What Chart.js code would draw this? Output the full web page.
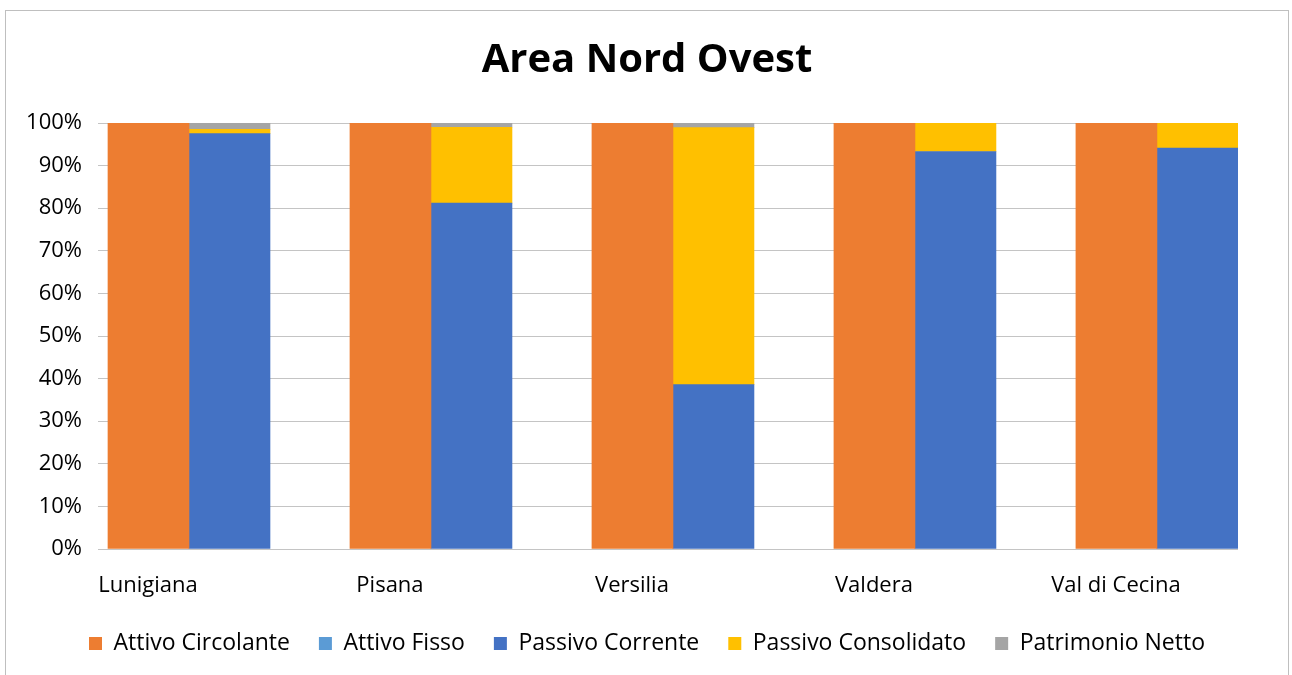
<!DOCTYPE html>
<html>
<head>
<meta charset="utf-8">
<script src="https://cdn.jsdelivr.net/npm/chart.js@4"></script>
<style>
  body { margin: 0; background: #fff; }
  #frame { position: absolute; left: 5px; top: 10px; width: 1282px; height: 700px; border: 1px solid #bfbfbf; }
  #box { position: absolute; left: 0; top: 0; width: 1282px; height: 664px; }
</style>
</head>
<body>
<div id="frame"><div id="box"><canvas id="chart"></canvas></div></div>
<script>
const categories = ['Lunigiana', 'Pisana', 'Versilia', 'Valdera', 'Val di Cecina'];
const attivoCircolante = [100, 100, 100, 100, 100];
const attivoFisso = [0, 0, 0, 0, 0];
const passivoCorrente = [97.5, 81.2, 38.6, 93.3, 94.1];
const passivoConsolidato = [1.0, 17.8, 60.3, 6.7, 5.9];
const patrimonioNetto = [1.5, 1.0, 1.1, 0, 0];
const yTicks = [0, 10, 20, 30, 40, 50, 60, 70, 80, 90, 100];

const font = "'Open Sans', sans-serif";

function points(values) {
    return values.map((v, i) => ({x: i, y: v}));
}

let ctx = document.getElementById('chart');
let myChart = new Chart(ctx, {
    type: 'bar',
    data: {
        datasets: [
            {label: 'Attivo Circolante', data: points(attivoCircolante), backgroundColor: '#ED7D31', stack: 'attivo'},
            {label: 'Attivo Fisso', data: points(attivoFisso), backgroundColor: '#5B9BD5', stack: 'attivo'},
            {label: 'Passivo Corrente', data: points(passivoCorrente), backgroundColor: '#4472C4', stack: 'passivo'},
            {label: 'Passivo Consolidato', data: points(passivoConsolidato), backgroundColor: '#FFC000', stack: 'passivo'},
            {label: 'Patrimonio Netto', data: points(patrimonioNetto), backgroundColor: '#A5A5A5', stack: 'passivo'}
        ]
    },
    options: {
        responsive: true,
        maintainAspectRatio: false,
        animation: false,
        barThickness: 81,
        layout: {padding: {left: 0, right: 0, top: 0, bottom: 10}},
        plugins: {
            title: {
                display: true,
                text: 'Area Nord Ovest',
                color: '#000',
                font: {family: font, size: 40, weight: 'bold'},
                padding: {top: 26, bottom: 38}
            },
            legend: {
                position: 'bottom',
                labels: {
                    color: '#000',
                    font: {family: font, size: 23},
                    boxWidth: 13,
                    boxHeight: 13,
                    padding: 29
                }
            },
            tooltip: {enabled: false}
        },
        scales: {
            x: {
                type: 'linear',
                stacked: true,
                offset: false,
                min: -0.376,
                max: 4.335,
                grid: {display: false},
                border: {display: false},
                afterBuildTicks: (scale) => {
                    scale.ticks = categories.map((c, i) => ({value: i}));
                },
                afterFit: (scale) => { scale.height = 54; },
                ticks: {
                    color: '#000',
                    font: {family: font, size: 22},
                    padding: 16,
                    labelOffset: -41,
                    maxRotation: 0,
                    autoSkip: false,
                    callback: (v) => categories[v]
                }
            },
            y: {
                stacked: true,
                min: 0,
                max: 100,
                afterBuildTicks: (scale) => {
                    scale.ticks = yTicks.map(v => ({value: v}));
                },
                afterFit: (scale) => { scale.width = 92; },
                grid: {color: '#c4c4c4', lineWidth: 1, drawTicks: false},
                border: {display: false},
                ticks: {
                    color: '#000',
                    font: {family: font, size: 22},
                    padding: 16,
                    callback: (v) => v + '%'
                }
            },
            yRight: {
                position: 'right',
                min: 0,
                max: 100,
                grid: {display: false},
                border: {display: false},
                ticks: {display: false},
                afterFit: (scale) => { scale.width = 50; }
            }
        }
    }
});
</script>
</body>
</html>
